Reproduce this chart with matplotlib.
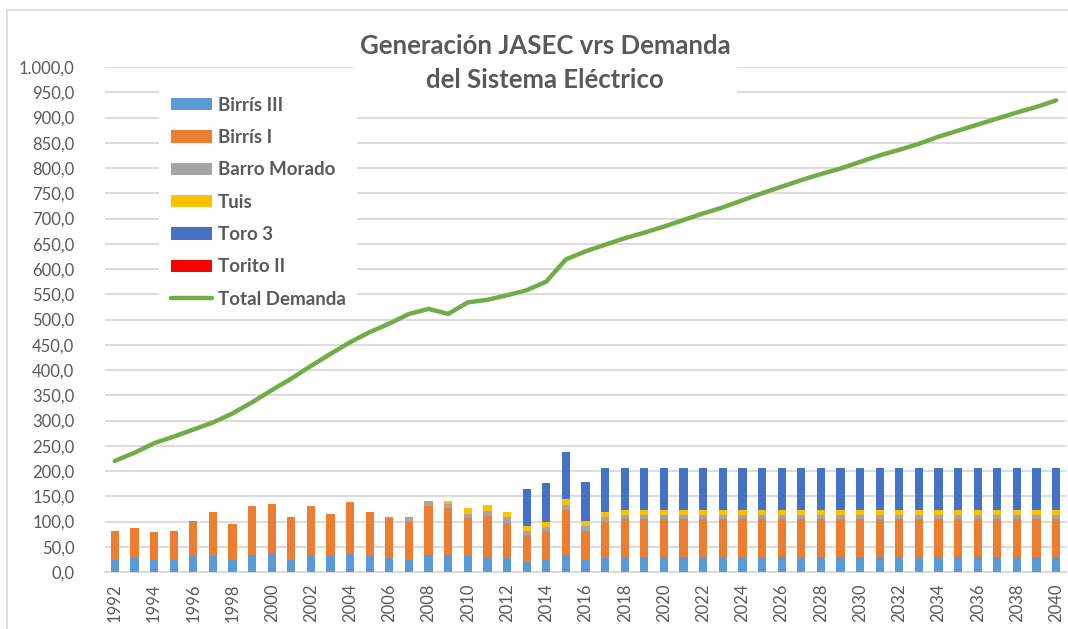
import numpy as np
import matplotlib
matplotlib.use('Agg')
import matplotlib.pyplot as plt
from matplotlib.patches import Rectangle
from matplotlib.ticker import FuncFormatter

plt.rcParams['font.family'] = ['Lato', 'DejaVu Sans']

years = list(range(1992, 2041))

# generation per plant (GWh)
birris3 = [24, 27, 23, 24, 31, 31, 24, 33, 35, 24, 33, 31, 35, 31, 28, 24, 33, 33, 31, 28, 28, 20, 23, 33, 23, 28] + [29] * 23
birris1 = [57, 61, 56, 57, 70, 87, 71, 97, 99, 84, 97, 83, 103, 87, 79, 76, 97, 93, 76, 82, 70, 53, 58, 89, 59, 72] + [75] * 23
barro = [0] * 14 + [2, 8, 10, 8, 7, 10, 10, 8, 9, 10, 9, 8] + [8] * 23
tuis = [0] * 17 + [6, 12, 12, 10, 10, 9, 13, 10, 11] + [11] * 23
toro3 = [0] * 21 + [74, 77, 93, 78, 87] + [83] * 23
torito2 = [0] * 49

demanda = [220, 236, 255, 268, 282, 296, 314, 336, 360, 383, 408, 432, 455, 475, 492, 511, 521, 511, 534, 539, 548, 558, 575, 619, 635, 648,
           661, 672, 684, 697, 710, 722, 736, 750, 763, 776, 788, 799, 812, 825, 836, 848, 862, 874, 886, 898, 910, 921, 934]

series = [
    ('Birrís III', birris3, '#5B9BD5'),
    ('Birrís I', birris1, '#ED7D31'),
    ('Barro Morado', barro, '#A5A5A5'),
    ('Tuis', tuis, '#FFC000'),
    ('Toro 3', toro3, '#4472C4'),
    ('Torito II', torito2, '#FF0000'),
]

gray = '#595959'
grid = '#D9D9D9'

fig = plt.figure(figsize=(10.68, 6.29), dpi=100)
fig.patches.append(Rectangle((7 / 1068, -0.1), 1.2, 1.1 - 10 / 629, transform=fig.transFigure,
                             fill=False, edgecolor=grid, linewidth=1.2))
ax = fig.add_axes([105 / 1068, 1 - 572 / 629, 961 / 1068, 505 / 629])

x = np.arange(len(years))
bottom = np.zeros(len(years))
handles = []
for name, vals, col in series:
    b = ax.bar(x, vals, 0.42, bottom=bottom, color=col, label=name, zorder=2)
    handles.append(b)
    bottom += np.array(vals)
ln, = ax.plot(x, demanda, color='#70AD47', linewidth=3.2, label='Total Demanda', zorder=3,
              solid_capstyle='round')
handles.append(ln)

ax.set_xlim(-0.5, len(years) - 0.5)
ax.set_ylim(0, 1000)
ax.set_yticks(np.arange(0, 1001, 50))
ax.yaxis.set_major_formatter(FuncFormatter(
    lambda v, p: '{:,.1f}'.format(v).replace(',', 'X').replace('.', ',').replace('X', '.')))
ax.set_xticks(x[::2])
ax.set_xticklabels([str(y) for y in years[::2]], rotation=90)
ax.tick_params(axis='y', length=0, pad=22, labelsize=12, labelcolor=gray)
ax.tick_params(axis='x', length=0, pad=8, labelsize=12, labelcolor=gray)
ax.grid(axis='y', color=grid, linewidth=1.3, zorder=0)
ax.set_axisbelow(True)
for s in ['top', 'right', 'left']:
    ax.spines[s].set_visible(False)
ax.spines['bottom'].set_color(grid)
ax.spines['bottom'].set_linewidth(1.3)
ax.spines['bottom'].set_zorder(1)

fig.text(545 / 1068, 1 - 63 / 629, 'Generación JASEC vrs Demanda\ndel Sistema Eléctrico',
         ha='center', va='center', fontsize=18.5, fontweight='bold', color=gray, linespacing=1.5,
         bbox=dict(facecolor='white', edgecolor='none', pad=5))

leg = ax.legend(handles=handles, labels=[h.get_label() for h in handles],
                loc='upper left', bbox_to_anchor=(150 / 1068, 1 - 76 / 629),
                bbox_transform=fig.transFigure, frameon=True, fancybox=False,
                edgecolor='none', facecolor='white', framealpha=1,
                prop={'size': 13.5, 'weight': 'bold'}, labelspacing=0.82,
                handlelength=2.2, handleheight=0.65, handletextpad=0.3, borderpad=0.6)
for t in leg.get_texts():
    t.set_color(gray)

fig.savefig('out.png', dpi=100)
